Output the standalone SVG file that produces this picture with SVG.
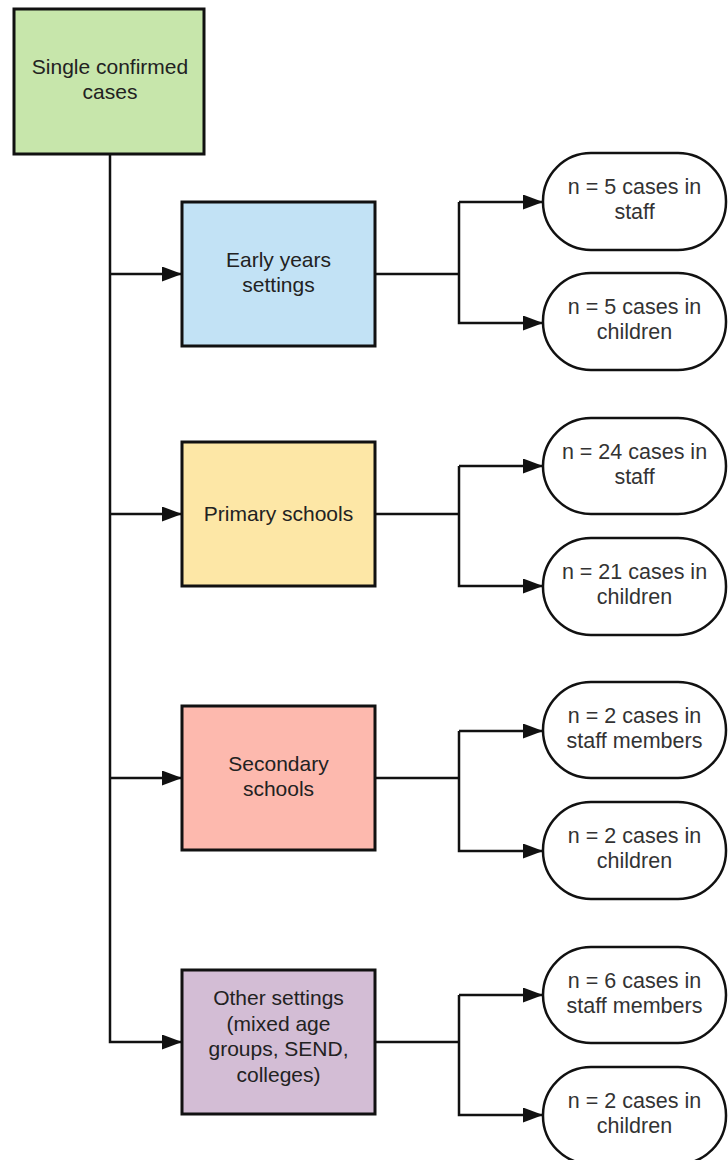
<svg xmlns="http://www.w3.org/2000/svg" width="728" height="1160" viewBox="0 0 728 1160">
<style>
.box{stroke:#111;stroke-width:3}
.pill{fill:#fff;stroke:#111;stroke-width:2.5}
.t{font-family:"Liberation Sans",Arial,sans-serif;font-size:21px;fill:#222;text-anchor:middle}
.p{font-family:"Liberation Sans",Arial,sans-serif;font-size:21.5px;fill:#333;text-anchor:middle}
.c{fill:none;stroke:#111;stroke-width:2.5}
</style>
<defs>
<marker id="ah" markerUnits="userSpaceOnUse" markerWidth="20" markerHeight="15" refX="20" refY="7.5" orient="auto">
<path d="M0,0 L20,7.5 L0,15 z" fill="#111"/>
</marker>
</defs>
<g id="connectors">
<path class="c" d="M110,154 V1042 H182" marker-end="url(#ah)"/>
<path class="c" d="M110,274 H182" marker-end="url(#ah)"/>
<path class="c" d="M110,514 H182" marker-end="url(#ah)"/>
<path class="c" d="M110,778 H182" marker-end="url(#ah)"/>
<path class="c" d="M375,274 H459"/>
<path class="c" d="M459,202 V323 H543" marker-end="url(#ah)"/>
<path class="c" d="M459,202 H543" marker-end="url(#ah)"/>
<path class="c" d="M375,514 H459"/>
<path class="c" d="M459,466 V586 H543" marker-end="url(#ah)"/>
<path class="c" d="M459,466 H543" marker-end="url(#ah)"/>
<path class="c" d="M375,778 H459"/>
<path class="c" d="M459,731 V851 H543" marker-end="url(#ah)"/>
<path class="c" d="M459,731 H543" marker-end="url(#ah)"/>
<path class="c" d="M375,1042 H459"/>
<path class="c" d="M459,995 V1115 H543" marker-end="url(#ah)"/>
<path class="c" d="M459,995 H543" marker-end="url(#ah)"/>
</g>
<g id="root">
<rect class="box" x="14" y="9" width="190" height="145" fill="#c7e6ab"/>
<text class="t" x="110" y="74">Single confirmed</text>
<text class="t" x="110" y="99">cases</text>
</g>
<g id="early">
<rect class="box" x="182" y="202" width="193" height="144" fill="#c2e2f5"/>
<text class="t" x="278.5" y="267">Early years</text>
<text class="t" x="278.5" y="292">settings</text>
</g>
<g id="primary">
<rect class="box" x="182" y="442" width="193" height="144" fill="#fde7a6"/>
<text class="t" x="278.5" y="521">Primary schools</text>
</g>
<g id="secondary">
<rect class="box" x="182" y="706" width="193" height="144" fill="#fdb9ae"/>
<text class="t" x="278.5" y="771">Secondary</text>
<text class="t" x="278.5" y="796">schools</text>
</g>
<g id="other">
<rect class="box" x="182" y="970" width="193" height="144" fill="#d3bdd5"/>
<text class="t" x="278.5" y="1005">Other settings</text>
<text class="t" x="278.5" y="1030.5">(mixed age</text>
<text class="t" x="278.5" y="1056">groups, SEND,</text>
<text class="t" x="278.5" y="1081.5">colleges)</text>
</g>
<g id="early-staff">
<rect class="pill" x="543" y="153" width="183" height="97" rx="48" ry="48"/>
<text class="p" x="634.5" y="194">n = 5 cases in</text>
<text class="p" x="634.5" y="219">staff</text>
</g>
<g id="early-children">
<rect class="pill" x="543" y="273" width="183" height="97" rx="48" ry="48"/>
<text class="p" x="634.5" y="314">n = 5 cases in</text>
<text class="p" x="634.5" y="339">children</text>
</g>
<g id="primary-staff">
<rect class="pill" x="543" y="418" width="183" height="96" rx="48" ry="48"/>
<text class="p" x="634.5" y="459">n = 24 cases in</text>
<text class="p" x="634.5" y="484">staff</text>
</g>
<g id="primary-children">
<rect class="pill" x="543" y="538" width="183" height="97" rx="48" ry="48"/>
<text class="p" x="634.5" y="579">n = 21 cases in</text>
<text class="p" x="634.5" y="604">children</text>
</g>
<g id="secondary-staff">
<rect class="pill" x="543" y="682" width="183" height="96" rx="48" ry="48"/>
<text class="p" x="634.5" y="723">n = 2 cases in</text>
<text class="p" x="634.5" y="748">staff members</text>
</g>
<g id="secondary-children">
<rect class="pill" x="543" y="802" width="183" height="97" rx="48" ry="48"/>
<text class="p" x="634.5" y="843">n = 2 cases in</text>
<text class="p" x="634.5" y="868">children</text>
</g>
<g id="other-staff">
<rect class="pill" x="543" y="947" width="183" height="96" rx="48" ry="48"/>
<text class="p" x="634.5" y="988">n = 6 cases in</text>
<text class="p" x="634.5" y="1013">staff members</text>
</g>
<g id="other-children">
<rect class="pill" x="543" y="1067" width="183" height="97" rx="48" ry="48"/>
<text class="p" x="634.5" y="1108">n = 2 cases in</text>
<text class="p" x="634.5" y="1133">children</text>
</g>
</svg>
